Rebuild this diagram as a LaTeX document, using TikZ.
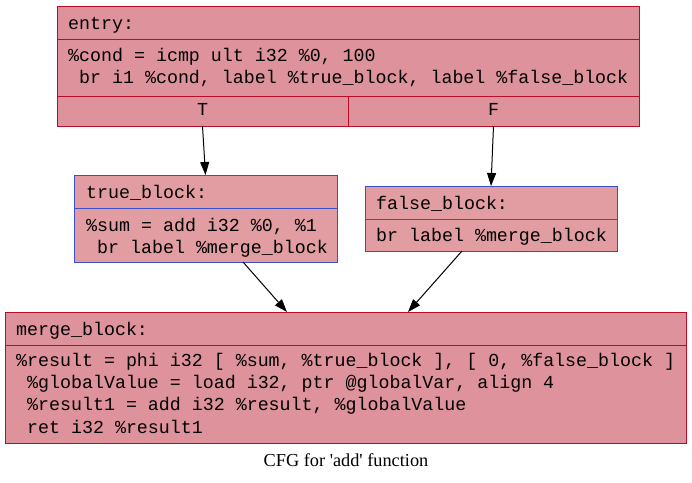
\documentclass[tikz,border=0pt]{standalone}
\usepackage{fontspec}
\setmainfont{Liberation Serif}
\setmonofont{Liberation Mono}
\usetikzlibrary{arrows.meta}
\definecolor{redline}{RGB}{183,13,40}
\definecolor{blueline}{RGB}{61,80,195}
\definecolor{redfill}{RGB}{222,146,155}
\definecolor{bluefill}{RGB}{225,157,161}
\tikzset{
  cell/.style={rectangle, draw=redline, fill=redfill, line width=1pt, inner sep=0pt, outer sep=0pt, anchor=north west},
  bcell/.style={cell, draw=blueline, fill=bluefill},
  code/.style={anchor=base west, inner sep=0pt, font=\fontsize{18.3}{22}\selectfont\ttfamily},
  porttxt/.style={anchor=base, inner sep=0pt, font=\fontsize{18.3}{22}\selectfont\ttfamily},
  flow/.style={draw=black, line width=1pt, -{Triangle[length=13pt,width=9pt]}},
  caption/.style={anchor=base, inner sep=0pt, font=\fontsize{18.3}{22}\selectfont\rmfamily}
}
\newcommand{\lsp}{\phantom{x}}
\begin{document}
\begin{tikzpicture}[x=1pt,y=-1pt]
\useasboundingbox[fill=white] (0,0) rectangle (692,482);
% entry
\node[cell, minimum width=582pt, minimum height=33pt] (entH) at (57,6) {};
\node[cell, minimum width=582pt, minimum height=57pt] (entB) at (57,39) {};
\node[cell, minimum width=291pt, minimum height=30pt] (entT) at (57,96) {};
\node[cell, minimum width=291pt, minimum height=30pt] (entF) at (348,96) {};
\node[code] (t1) at (68,29) {entry:};
\node[code] (t2) at (68,61) {\%cond = icmp ult i32 \%0, 100};
\node[code] (t3) at (68,83) {\lsp br i1 \%cond, label \%true\_block, label \%false\_block};
\node[porttxt] (tT) at (202.5,115) {T};
\node[porttxt] (tF) at (493.5,115) {F};
% true_block
\node[bcell, minimum width=263pt, minimum height=33pt] (trH) at (74,175) {};
\node[bcell, minimum width=263pt, minimum height=54pt] (trB) at (74,208) {};
\node[code] (t4) at (86,198) {true\_block:};
\node[code] (t5) at (86,231.5) {\%sum = add i32 \%0, \%1};
\node[code] (t6) at (86,253.5) {\lsp br label \%merge\_block};
% false_block
\node[bcell, minimum width=252pt, minimum height=33pt] (faH) at (365,186) {};
\node[bcell, minimum width=252pt, minimum height=32pt] (faB) at (365,219) {};
\node[code] (t7) at (376,209) {false\_block:};
\node[code] (t8) at (376,241.5) {br label \%merge\_block};
% merge_block
\node[cell, minimum width=681pt, minimum height=33pt] (meH) at (5,312) {};
\node[cell, minimum width=681pt, minimum height=98pt] (meB) at (5,345) {};
\node[code] (t9) at (16,335) {merge\_block:};
\node[code] (t10) at (16,366.7) {\%result = phi i32 [ \%sum, \%true\_block ], [ 0, \%false\_block ]};
\node[code] (t11) at (16,388.8) {\lsp\%globalValue = load i32, ptr @globalVar, align 4};
\node[code] (t12) at (16,410.9) {\lsp\%result1 = add i32 \%result, \%globalValue};
\node[code] (t13) at (16,433) {\lsp ret i32 \%result1};
% caption
\node[caption] (cap) at (346,466.5) {CFG for \textquotesingle add\textquotesingle\ function};
% edges
\draw[flow] (entT.south) -- (trH.north);
\draw[flow] (entF.south) -- (faH.north);
\draw[flow] ([xshift=37.5pt]trB.south) -- ([xshift=-58.5pt]meH.north);
\draw[flow] ([xshift=-29pt]faB.south) -- ([xshift=62.5pt]meH.north);
\end{tikzpicture}
\end{document}
